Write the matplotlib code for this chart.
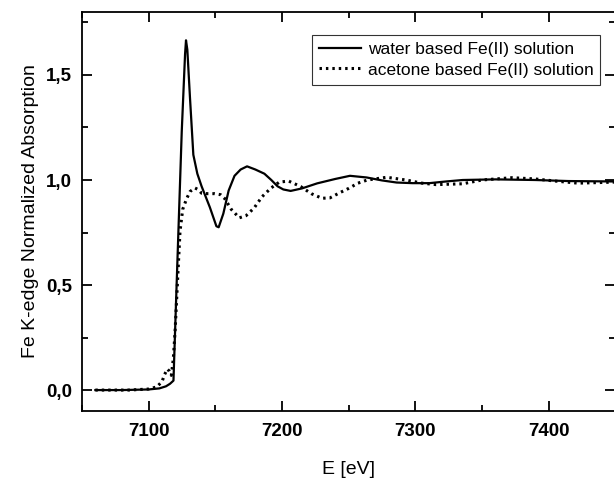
import matplotlib
matplotlib.use("Agg")
import matplotlib.pyplot as plt
from matplotlib.ticker import MultipleLocator, FuncFormatter

plt.rcParams['font.family'] = ['Liberation Sans', 'DejaVu Sans']

# water based Fe(II) solution
water_e = [7060, 7080, 7100, 7108, 7113, 7116, 7118.6, 7119.8, 7122.3, 7124.8,
           7127.3, 7128, 7129, 7131, 7133.5, 7136.5, 7139.7, 7145.9, 7150.8, 7152.5,
           7156, 7160, 7164.4, 7169, 7173.8, 7180, 7186.8, 7192, 7196.7, 7201,
           7206.5, 7215, 7226.4, 7240, 7251, 7263.6, 7275, 7286, 7298, 7310.6,
           7323, 7335.6, 7360, 7390, 7415, 7450]
water_v = [0.0, 0.0, 0.003, 0.008, 0.018, 0.03, 0.045, 0.28, 0.755, 1.23,
           1.6, 1.665, 1.62, 1.39, 1.12, 1.03, 0.97, 0.87, 0.78, 0.775,
           0.84, 0.95, 1.02, 1.05, 1.065, 1.05, 1.03, 1.0, 0.97, 0.955,
           0.948, 0.96, 0.984, 1.005, 1.02, 1.012, 0.998, 0.988, 0.985, 0.985,
           0.993, 1.0, 1.003, 1.0, 0.995, 0.993]

# acetone based Fe(II) solution
acet_e = [7060, 7085, 7100, 7106, 7110, 7112, 7114, 7115.5, 7117, 7118.5,
          7119.8, 7121.5, 7123.5, 7125.5, 7128.4, 7131, 7134.7, 7137, 7139.7, 7144,
          7149.6, 7154, 7157, 7162, 7168, 7173, 7179, 7185, 7191.6, 7198,
          7205, 7214, 7222, 7230, 7236, 7243.5, 7250, 7257, 7264, 7278.5,
          7293, 7305, 7315.6, 7335.6, 7350, 7372.6, 7390, 7405, 7422, 7450]
acet_v = [0.0, 0.0, 0.005, 0.015, 0.04, 0.075, 0.1, 0.09, 0.07, 0.15,
          0.28, 0.5, 0.755, 0.86, 0.91, 0.945, 0.962, 0.955, 0.937, 0.935,
          0.935, 0.93, 0.912, 0.86, 0.82, 0.83, 0.866, 0.92, 0.961, 0.99,
          0.995, 0.969, 0.935, 0.913, 0.915, 0.94, 0.96, 0.985, 1.0, 1.013,
          1.0, 0.985, 0.978, 0.982, 1.0, 1.011, 1.005, 0.995, 0.985, 0.99]

fig = plt.figure(figsize=(6.14, 4.78), dpi=100)
ax = fig.add_axes([0.1336, 0.140, 0.8684, 0.835])

ax.plot(water_e, water_v, color='black', linewidth=1.6, linestyle='-',
        label='water based Fe(II) solution')
ax.plot(acet_e, acet_v, color='black', linewidth=2.2, linestyle=(0, (0.8, 1.3)),
        label='acetone based Fe(II) solution')

ax.set_xlim(7050, 7450)
ax.set_ylim(-0.1, 1.8)
ax.xaxis.set_major_locator(MultipleLocator(100))
ax.xaxis.set_minor_locator(MultipleLocator(50))
ax.yaxis.set_major_locator(MultipleLocator(0.5))
ax.yaxis.set_minor_locator(MultipleLocator(0.25))
ax.yaxis.set_major_formatter(FuncFormatter(lambda v, p: ('%.1f' % v).replace('.', ',')))

ax.tick_params(which='both', direction='in', top=True, right=True, width=1.3)
ax.tick_params(which='major', length=7, labelsize=13.5, pad=7)
ax.tick_params(axis='x', which='major', pad=8.5)
ax.tick_params(which='minor', length=4)
for lab in ax.get_xticklabels() + ax.get_yticklabels():
    lab.set_fontweight('bold')
for s in ax.spines.values():
    s.set_linewidth(1.3)

ax.set_xlabel('E [eV]', fontsize=14, labelpad=15)
ax.set_ylabel('Fe K-edge Normalized Absorption', fontsize=14, labelpad=5)

leg = ax.legend(loc='upper right', bbox_to_anchor=(0.972, 0.942), fontsize=12.5,
                frameon=True, fancybox=False, handlelength=2.4, handletextpad=0.4,
                borderpad=0.4, labelspacing=0.3, borderaxespad=0)
leg.get_frame().set_edgecolor('black')
leg.get_frame().set_linewidth(0.8)

fig.savefig('out.png', dpi=100)
